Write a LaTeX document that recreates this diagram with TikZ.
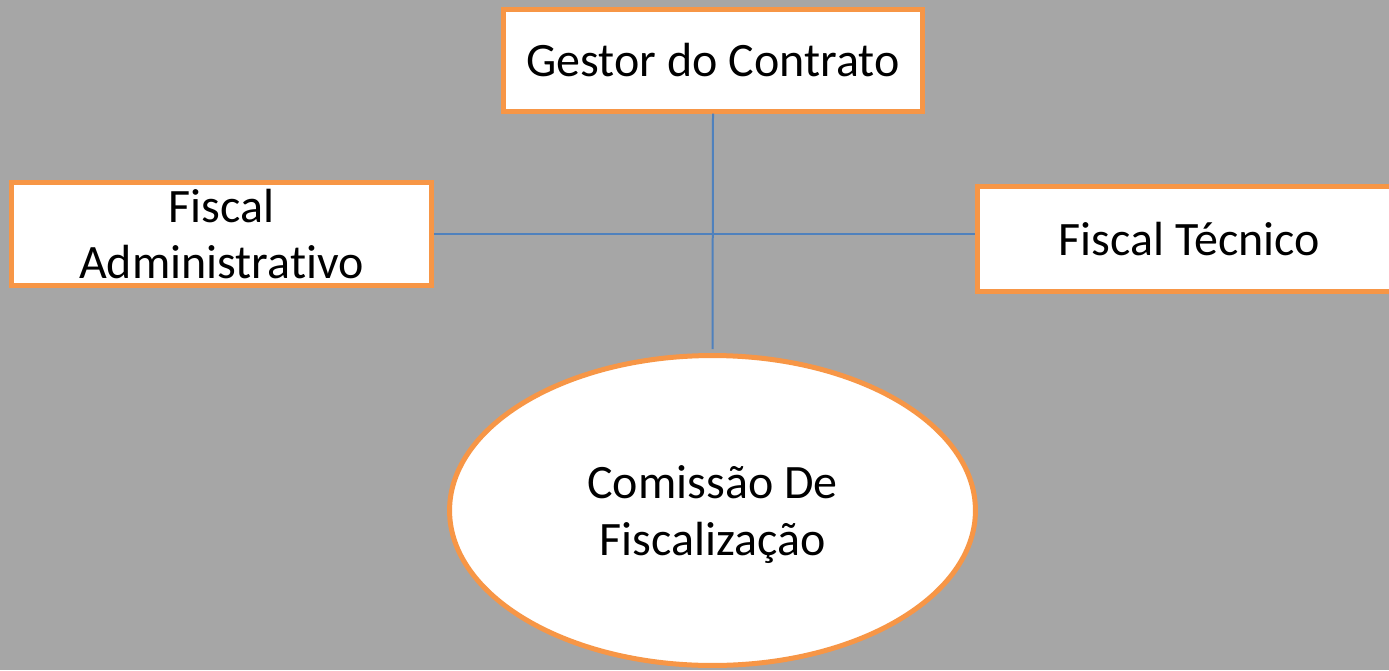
\documentclass[tikz,border=0pt]{standalone}
\usepackage{fontspec}
\setmainfont{Carlito}[Ligatures=NoCommon]
\usetikzlibrary{shapes}
\definecolor{bggrey}{HTML}{A6A6A6}
\definecolor{boxorange}{HTML}{F79646}
\definecolor{linkblue}{HTML}{4F81BD}
\tikzstyle{role} = [rectangle, draw=boxorange, fill=white, line width=0.1cm,
    align=center, font=\fontsize{27.3}{32}\selectfont, minimum height=2.03cm]
\tikzstyle{team} = [ellipse, draw=boxorange, fill=white, line width=0.1cm,
    align=center, font=\fontsize{27.3}{32}\selectfont, text depth=-3pt,
    minimum width=10.52cm, minimum height=6.2cm]
\tikzstyle{link} = [draw=linkblue, line width=0.04cm]

\begin{document}
\begin{tikzpicture}[x=0.02cm,y=-0.02cm]

  \fill[bggrey] (0,0) rectangle (1389,670);
  \useasboundingbox (0,0) rectangle (1389,670);
  \clip (0,0) rectangle (1389,670);

  \node[role, minimum width=8.38cm] (GC) at (713,60.5)   {Gestor do Contrato};
  \node[role, minimum width=8.4cm, minimum height=2.06cm]
                                    (FA) at (221.5,234)  {Fiscal\\Administrativo};
  \node[role, minimum width=8.5cm, minimum height=2.1cm]
                                    (FT) at (1189.5,239) {Fiscal Técnico};
  \node[team]                       (CF) at (712.5,510.5) {Comissão De\\Fiscalização};

  % connectors
  \path[link] (FA.east) -- (FA.east -| FT.west);
  \path[link, shorten >=0.08cm] (GC.south) -- (CF.north);
\end{tikzpicture}
\end{document}
